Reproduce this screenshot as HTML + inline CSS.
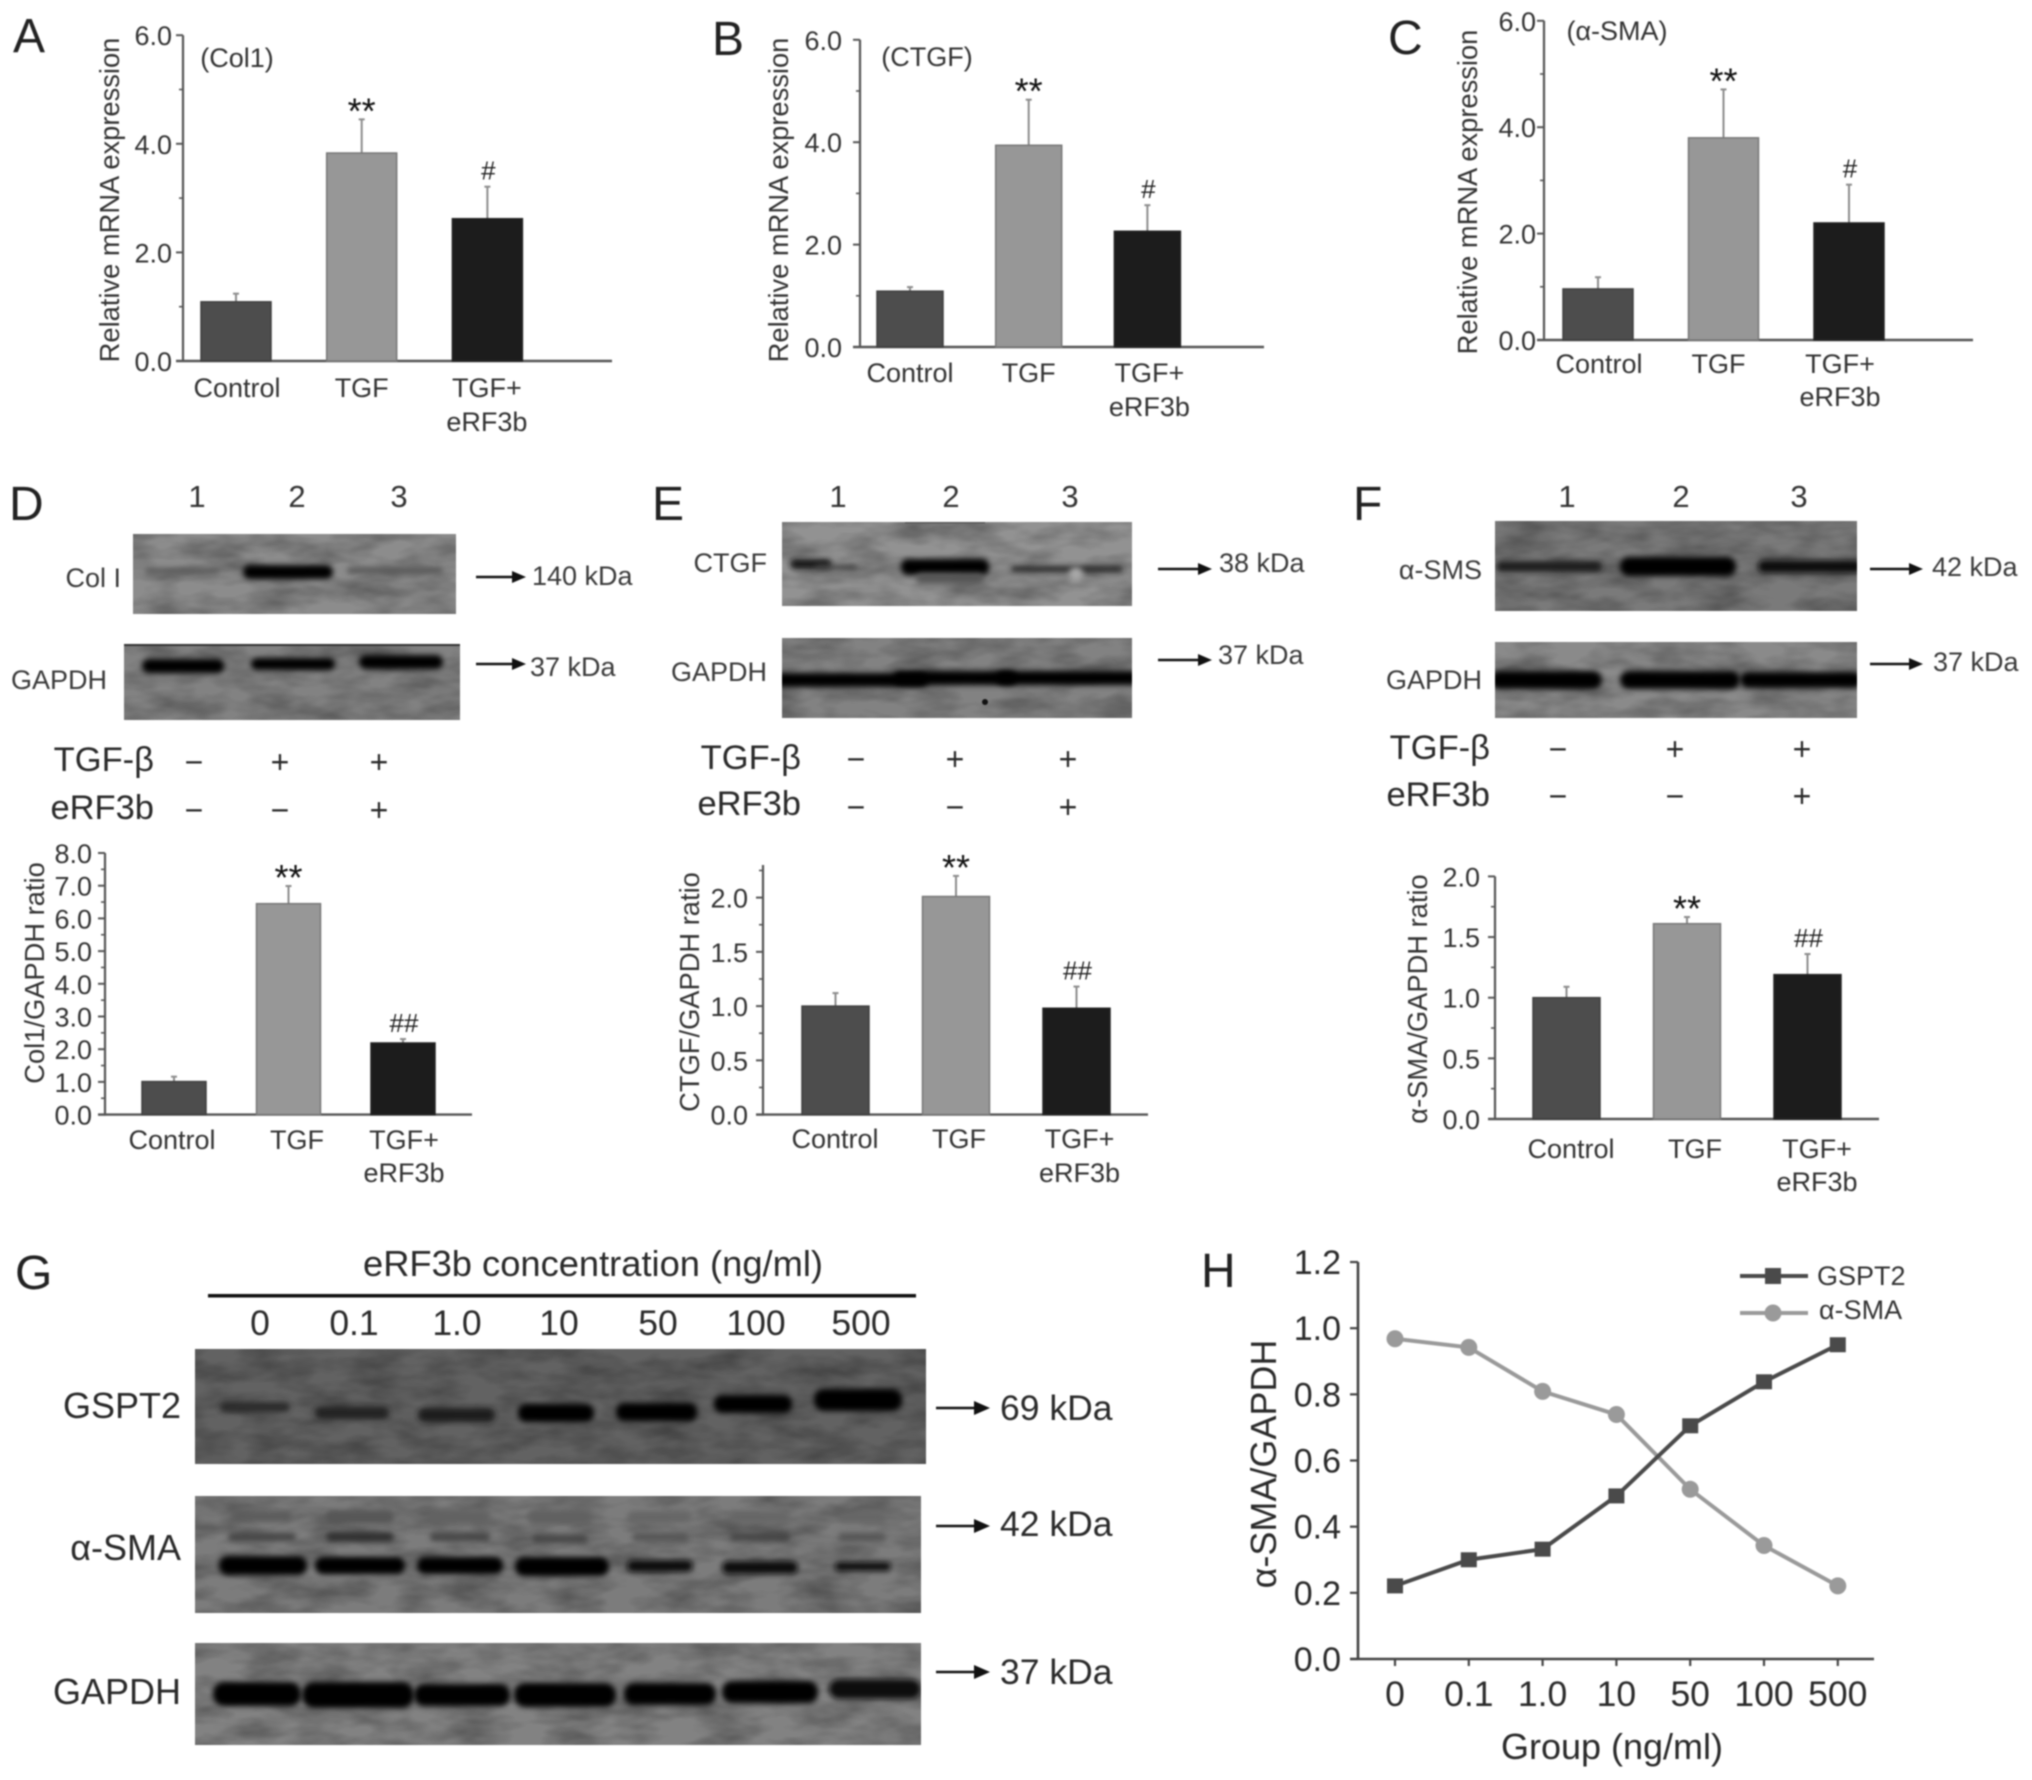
<!DOCTYPE html>
<html lang="en">
<head>
<meta charset="utf-8">
<title>eRF3b Western blot and qPCR figure</title>
<style>
html,body{margin:0;padding:0;background:#fff;width:2032px;height:1780px;overflow:hidden}
svg#figure{display:block;filter:blur(0.7px)}
text{font-family:"Liberation Sans","DejaVu Sans",sans-serif;fill:#333}
.panel{font-size:48px;fill:#222}
.lane{font-size:31px;text-anchor:middle;fill:#333}
.wb{font-size:27px;fill:#3a3a3a}
.wbr{font-size:27px;fill:#3a3a3a;text-anchor:end}
.treat{font-size:34.5px;fill:#2a2a2a;text-anchor:end}
.sign{font-size:32px;fill:#2a2a2a;text-anchor:middle}
.g{font-size:35.5px;fill:#2a2a2a}
.gr{font-size:36px;fill:#2a2a2a;text-anchor:end}
.gl{font-size:35.5px;fill:#2a2a2a;text-anchor:middle}
.band{filter:url(#bandBlur)}
.arrow-line{stroke:#111;stroke-width:2.5}
.arrow-head{fill:#111}
</style>
</head>
<body>
<svg id="figure" xmlns="http://www.w3.org/2000/svg" width="2032" height="1780" viewBox="0 0 2032 1780">
<defs>
<filter id="bandBlur" x="-30%" y="-200%" width="160%" height="500%"><feGaussianBlur stdDeviation="3"/></filter>
<filter id="mottle" x="0" y="0" width="100%" height="100%">
<feTurbulence type="fractalNoise" baseFrequency="0.02 0.05" numOctaves="3" seed="4"/>
<feColorMatrix type="matrix" values="0 0 0 0 0  0 0 0 0 0  0 0 0 0 0  0.55 0 0 0 -0.18"/>
</filter>
</defs>
<rect width="2032" height="1780" fill="#fff"/>

<text class="panel" x="13" y="52">A</text>
<text class="panel" x="712" y="55">B</text>
<text class="panel" x="1388" y="54">C</text>
<text class="panel" x="9" y="520">D</text>
<text class="panel" x="652" y="520">E</text>
<text class="panel" x="1353" y="520">F</text>
<text class="panel" x="15" y="1289">G</text>
<text class="panel" x="1201" y="1287">H</text>

<!-- Panel D blots -->
<g>
<text class="lane" x="197" y="507">1</text>
<text class="lane" x="297" y="507">2</text>
<text class="lane" x="399" y="507">3</text>
<svg x="133" y="534" width="323" height="80" viewBox="133 534 323 80">
<rect x="133" y="534" width="323" height="80" fill="#8c8c8c"/>
<rect x="133" y="534" width="323" height="80" filter="url(#mottle)"/>
<rect class="band" x="145" y="568" width="74" height="6" rx="3" fill="#5a5a5a"/>
<rect class="band" x="243" y="565" width="90" height="14" rx="7" fill="#050505"/>
<rect class="band" x="347" y="567" width="96" height="7" rx="3" fill="#5a5a5a"/>
</svg>
<svg x="124" y="644" width="336" height="76" viewBox="124 644 336 76">
<rect x="124" y="644" width="336" height="76" fill="#828282"/>
<rect x="124" y="644" width="336" height="76" filter="url(#mottle)"/>
<rect x="124" y="644" width="336" height="2" fill="#333"/>
<rect class="band" x="142" y="659" width="82" height="14" rx="7" fill="#050505"/>
<rect class="band" x="251" y="658" width="84" height="12" rx="6" fill="#050505"/>
<rect class="band" x="359" y="655" width="84" height="14" rx="7" fill="#050505"/>
</svg>
<text class="wbr" x="121" y="587">Col I</text>
<text class="wbr" x="107" y="689">GAPDH</text>
<line class="arrow-line" x1="476" y1="577" x2="514" y2="577"/><polygon class="arrow-head" points="512,571 526,577 512,583"/>
<text class="wb" x="532" y="585">140 kDa</text>
<line class="arrow-line" x1="476" y1="664" x2="514" y2="664"/><polygon class="arrow-head" points="512,658 526,664 512,670"/>
<text class="wb" x="530" y="676">37 kDa</text>
<text class="treat" x="154" y="771">TGF-β</text>
<text class="treat" x="154" y="819">eRF3b</text>
<text class="sign" x="194" y="773">−</text>
<text class="sign" x="280" y="773">+</text>
<text class="sign" x="379" y="773">+</text>
<text class="sign" x="194" y="821">−</text>
<text class="sign" x="280" y="821">−</text>
<text class="sign" x="379" y="821">+</text>
</g>

<!-- Panel E blots -->
<g>
<text class="lane" x="838" y="507">1</text>
<text class="lane" x="951" y="507">2</text>
<text class="lane" x="1070" y="507">3</text>
<svg x="782" y="522" width="350" height="84" viewBox="782 522 350 84">
<rect x="782" y="522" width="350" height="84" fill="#929292"/>
<rect x="782" y="522" width="350" height="84" filter="url(#mottle)"/>
<rect x="905" y="522" width="80" height="1.5" fill="#555"/>
<rect class="band" x="790" y="559" width="42" height="10" rx="5" fill="#151515"/>
<rect class="band" x="815" y="565" width="42" height="5" rx="2.5" fill="#444"/>
<rect class="band" x="901" y="559" width="88" height="16" rx="7" fill="#050505"/>
<rect class="band" x="916" y="573" width="68" height="10" rx="5" fill="#555"/>
<rect class="band" x="1011" y="566" width="112" height="6" rx="3" fill="#222"/>
<circle cx="1076" cy="574" r="7" fill="#a8a8a8" class="band"/>
</svg>
<svg x="782" y="638" width="350" height="80" viewBox="782 638 350 80">
<rect x="782" y="638" width="350" height="80" fill="#828282"/>
<rect x="782" y="638" width="350" height="80" filter="url(#mottle)"/>
<rect class="band" x="772" y="673" width="156" height="14" rx="7" fill="#050505"/>
<rect class="band" x="893" y="671" width="124" height="14" rx="7" fill="#050505"/>
<rect class="band" x="996" y="671" width="144" height="14" rx="7" fill="#050505"/>
<circle cx="985" cy="702" r="3" fill="#111"/>
</svg>
<text class="wbr" x="767" y="572">CTGF</text>
<text class="wbr" x="767" y="681">GAPDH</text>
<line class="arrow-line" x1="1158" y1="569" x2="1200" y2="569"/><polygon class="arrow-head" points="1198,563 1212,569 1198,575"/>
<text class="wb" x="1219" y="572">38 kDa</text>
<line class="arrow-line" x1="1158" y1="660" x2="1200" y2="660"/><polygon class="arrow-head" points="1198,654 1212,660 1198,666"/>
<text class="wb" x="1218" y="664">37 kDa</text>
<text class="treat" x="801" y="769">TGF-β</text>
<text class="treat" x="801" y="815">eRF3b</text>
<text class="sign" x="856" y="770">−</text>
<text class="sign" x="955" y="770">+</text>
<text class="sign" x="1068" y="770">+</text>
<text class="sign" x="856" y="818">−</text>
<text class="sign" x="955" y="818">−</text>
<text class="sign" x="1068" y="818">+</text>
</g>

<!-- Panel F blots -->
<g>
<text class="lane" x="1567" y="507">1</text>
<text class="lane" x="1681" y="507">2</text>
<text class="lane" x="1799" y="507">3</text>
<svg x="1495" y="521" width="362" height="90" viewBox="1495 521 362 90">
<rect x="1495" y="521" width="362" height="90" fill="#7a7a7a"/>
<rect x="1495" y="521" width="362" height="90" filter="url(#mottle)"/>
<rect class="band" x="1496" y="561" width="106" height="11" rx="5" fill="#1a1a1a"/>
<rect class="band" x="1620" y="557" width="116" height="19" rx="9" fill="#030303"/>
<rect class="band" x="1758" y="560" width="104" height="13" rx="6" fill="#0a0a0a"/>
</svg>
<svg x="1495" y="642" width="362" height="76" viewBox="1495 642 362 76">
<rect x="1495" y="642" width="362" height="76" fill="#8a8a8a"/>
<rect x="1495" y="642" width="362" height="76" filter="url(#mottle)"/>
<rect class="band" x="1490" y="671" width="112" height="18" rx="9" fill="#030303"/>
<rect class="band" x="1620" y="671" width="120" height="18" rx="9" fill="#030303"/>
<rect class="band" x="1740" y="672" width="122" height="16" rx="8" fill="#030303"/>
</svg>
<text class="wbr" x="1482" y="579">α-SMS</text>
<text class="wbr" x="1482" y="689">GAPDH</text>
<line class="arrow-line" x1="1870" y1="569" x2="1911" y2="569"/><polygon class="arrow-head" points="1909,563 1923,569 1909,575"/>
<text class="wb" x="1932" y="576">42 kDa</text>
<line class="arrow-line" x1="1870" y1="664" x2="1911" y2="664"/><polygon class="arrow-head" points="1909,658 1923,664 1909,670"/>
<text class="wb" x="1933" y="671">37 kDa</text>
<text class="treat" x="1490" y="759">TGF-β</text>
<text class="treat" x="1490" y="806">eRF3b</text>
<text class="sign" x="1558" y="760">−</text>
<text class="sign" x="1675" y="760">+</text>
<text class="sign" x="1802" y="760">+</text>
<text class="sign" x="1558" y="807">−</text>
<text class="sign" x="1675" y="807">−</text>
<text class="sign" x="1802" y="807">+</text>
</g>

<!-- Panel G blots -->
<g>
<text class="gl" x="593" y="1276" style="font-size:36.3px">eRF3b concentration (ng/ml)</text>
<rect x="208" y="1294" width="708" height="3.5" fill="#111"/>
<text class="gl" x="260" y="1335">0</text>
<text class="gl" x="354" y="1335">0.1</text>
<text class="gl" x="457" y="1335">1.0</text>
<text class="gl" x="559" y="1335">10</text>
<text class="gl" x="658" y="1335">50</text>
<text class="gl" x="756" y="1335">100</text>
<text class="gl" x="861" y="1335">500</text>
<svg x="195" y="1349" width="731" height="115" viewBox="195 1349 731 115">
<rect x="195" y="1349" width="731" height="115" fill="#626262"/>
<rect x="195" y="1349" width="731" height="115" filter="url(#mottle)"/>
<rect class="band" x="220" y="1402" width="70" height="10" rx="5" fill="#2a2a2a"/>
<rect class="band" x="315" y="1407" width="74" height="12" rx="6" fill="#222"/>
<rect class="band" x="418" y="1408" width="77" height="14" rx="7" fill="#1a1a1a"/>
<rect class="band" x="518" y="1404" width="76" height="18" rx="8" fill="#050505"/>
<rect class="band" x="616" y="1403" width="81" height="18" rx="8" fill="#050505"/>
<rect class="band" x="714" y="1395" width="78" height="18" rx="8" fill="#050505"/>
<rect class="band" x="814" y="1389" width="88" height="22" rx="10" fill="#030303"/>
</svg>
<svg x="195" y="1496" width="726" height="117" viewBox="195 1496 726 117">
<rect x="195" y="1496" width="726" height="117" fill="#7c7c7c"/>
<rect x="195" y="1496" width="726" height="117" filter="url(#mottle)"/>
<rect class="band" x="232" y="1511" width="60" height="11" rx="5" fill="#5c5c5c"/>
<rect class="band" x="326" y="1510" width="68" height="14" rx="6" fill="#565656"/>
<rect class="band" x="430" y="1510" width="60" height="14" rx="6" fill="#626262"/>
<rect class="band" x="528" y="1510" width="64" height="14" rx="6" fill="#606060"/>
<rect class="band" x="628" y="1511" width="64" height="12" rx="6" fill="#666"/>
<rect class="band" x="730" y="1511" width="60" height="12" rx="6" fill="#666"/>
<rect class="band" x="838" y="1511" width="48" height="12" rx="6" fill="#666"/>
<rect class="band" x="228" y="1533" width="68" height="8" rx="4" fill="#444"/>
<rect class="band" x="326" y="1532" width="68" height="10" rx="5" fill="#333"/>
<rect class="band" x="430" y="1533" width="60" height="8" rx="4" fill="#444"/>
<rect class="band" x="532" y="1535" width="56" height="8" rx="4" fill="#444"/>
<rect class="band" x="632" y="1533" width="56" height="8" rx="4" fill="#555"/>
<rect class="band" x="730" y="1533" width="60" height="8" rx="4" fill="#444"/>
<rect class="band" x="838" y="1533" width="48" height="8" rx="4" fill="#555"/>
<rect class="band" x="219" y="1556" width="88" height="19" rx="9" fill="#030303"/>
<rect class="band" x="315" y="1557" width="90" height="17" rx="8" fill="#030303"/>
<rect class="band" x="417" y="1557" width="86" height="17" rx="8" fill="#030303"/>
<rect class="band" x="515" y="1557" width="94" height="19" rx="9" fill="#030303"/>
<rect class="band" x="627" y="1560" width="66" height="12" rx="6" fill="#0a0a0a"/>
<rect class="band" x="722" y="1561" width="76" height="13" rx="6" fill="#0a0a0a"/>
<rect class="band" x="835" y="1562" width="56" height="9" rx="4" fill="#111"/>
</svg>
<svg x="195" y="1643" width="726" height="102" viewBox="195 1643 726 102">
<rect x="195" y="1643" width="726" height="102" fill="#828282"/>
<rect x="195" y="1643" width="726" height="102" filter="url(#mottle)"/>
<rect class="band" x="213" y="1682" width="88" height="24" rx="11" fill="#030303"/>
<rect class="band" x="302" y="1682" width="112" height="26" rx="12" fill="#030303"/>
<rect class="band" x="414" y="1684" width="96" height="22" rx="10" fill="#030303"/>
<rect class="band" x="514" y="1683" width="102" height="24" rx="11" fill="#030303"/>
<rect class="band" x="624" y="1683" width="92" height="22" rx="10" fill="#030303"/>
<rect class="band" x="722" y="1681" width="96" height="22" rx="10" fill="#050505"/>
<rect class="band" x="829" y="1679" width="92" height="20" rx="10" fill="#0a0a0a"/>
</svg>
<text class="gr" x="181" y="1418">GSPT2</text>
<text class="gr" x="181" y="1560">α-SMA</text>
<text class="gr" x="181" y="1704">GAPDH</text>
<line class="arrow-line" x1="936" y1="1408" x2="976" y2="1408"/><polygon class="arrow-head" points="974,1401 990,1408 974,1415"/>
<text class="g" x="1000" y="1420">69 kDa</text>
<line class="arrow-line" x1="936" y1="1526" x2="976" y2="1526"/><polygon class="arrow-head" points="974,1519 990,1526 974,1533"/>
<text class="g" x="1000" y="1536">42 kDa</text>
<line class="arrow-line" x1="936" y1="1672" x2="976" y2="1672"/><polygon class="arrow-head" points="974,1665 990,1672 974,1679"/>
<text class="g" x="1000" y="1684">37 kDa</text>
</g>

<g id="charts"></g>
</svg>

<script>
// ---- Chart data ----
const barCategories = ['Control', 'TGF', 'TGF+'];
const barCategorySecondLine = ['', '', 'eRF3b'];

const aTickLabels = ['0.0', '2.0', '4.0', '6.0'];
const aMinorTicks = [1, 3, 5];
const aValues = [1.09, 3.83, 2.62];
const aErrorTops = [1.24, 4.45, 3.21];
const aMarks = ['', '**', '#'];

const bTickLabels = ['0.0', '2.0', '4.0', '6.0'];
const bMinorTicks = [1, 3, 5];
const bValues = [1.09, 3.94, 2.26];
const bErrorTops = [1.17, 4.83, 2.77];
const bMarks = ['', '**', '#'];

const cTickLabels = ['0.0', '2.0', '4.0', '6.0'];
const cMinorTicks = [1, 3, 5];
const cValues = [0.96, 3.80, 2.20];
const cErrorTops = [1.18, 4.71, 2.92];
const cMarks = ['', '**', '#'];

const dTickLabels = ['0.0', '1.0', '2.0', '3.0', '4.0', '5.0', '6.0', '7.0', '8.0'];
const dMinorTicks = [0.5, 1.5, 2.5, 3.5, 4.5, 5.5, 6.5, 7.5];
const dValues = [1.01, 6.45, 2.19];
const dErrorTops = [1.16, 6.99, 2.31];
const dMarks = ['', '**', '##'];

const eTickLabels = ['0.0', '0.5', '1.0', '1.5', '2.0'];
const eMinorTicks = [0.25, 0.75, 1.25, 1.75, 2.25];
const eValues = [1.0, 2.01, 0.98];
const eErrorTops = [1.12, 2.2, 1.18];
const eMarks = ['', '**', '##'];

const fTickLabels = ['0.0', '0.5', '1.0', '1.5', '2.0'];
const fMinorTicks = [0.25, 0.75, 1.25, 1.75];
const fValues = [1.0, 1.61, 1.19];
const fErrorTops = [1.09, 1.665, 1.36];
const fMarks = ['', '**', '##'];

const hCategories = ['0', '0.1', '1.0', '10', '50', '100', '500'];
const hTickLabels = ['0.0', '0.2', '0.4', '0.6', '0.8', '1.0', '1.2'];
const hGspt2Values = [0.221, 0.30, 0.332, 0.493, 0.705, 0.838, 0.95];
const hSmaValues = [0.968, 0.942, 0.809, 0.739, 0.513, 0.343, 0.221];

// ---- Drawing ----
const SVGNS = 'http://www.w3.org/2000/svg';
const chartsRoot = document.getElementById('charts');

function mk(tag, name, attrs, parent) {
  const el = document.createElementNS(SVGNS, tag);
  
  
  Object.keys(attrs).forEach(function (k) { el.setAttribute(k, attrs[k]); });
  parent.appendChild(el);
  return el;
}
function label(name, str, attrs, parent) {
  const el = mk('text', name, attrs, parent);
  el.textContent = str;
  return el;
}

const barFills = ['#4d4d4d', '#979797', '#1c1c1c'];
const barEdges = ['#3f3f3f', '#777777', '#222222'];
const AXIS = '#555';

function drawBarChart(id, layout, tickLabels, minorTicks, values, errorTops, marks) {
  const g = mk('g', 'chart-' + id, {}, chartsRoot);
  const yScale = function (v) { return layout.y0 - v * layout.unit; };
  const xBand = function (i) { return layout.first + i * layout.step; };
  const size = 27;

  const topValue = layout.axisTopValue;
  mk('line', 'y-axis', { x1: layout.x0, x2: layout.x0, y1: yScale(topValue), y2: layout.y0 + 1, stroke: AXIS, 'stroke-width': 2.2 }, g);
  mk('line', 'x-axis', { x1: layout.x0 - 7, x2: layout.xEnd, y1: layout.y0, y2: layout.y0, stroke: AXIS, 'stroke-width': 2.4 }, g);

  tickLabels.forEach(function (t) {
    const v = Number(t);
    mk('line', 'y-tick', { x1: layout.x0 - 7, x2: layout.x0, y1: yScale(v), y2: yScale(v), stroke: AXIS, 'stroke-width': 2 }, g);
    label('y-tick-label', t, { x: layout.tickRight, y: yScale(v) + 10, 'text-anchor': 'end', 'font-size': size }, g);
  });
  minorTicks.forEach(function (v) {
    mk('line', 'y-minor-tick', { x1: layout.x0 - 4, x2: layout.x0, y1: yScale(v), y2: yScale(v), stroke: AXIS, 'stroke-width': 1.6 }, g);
  });

  label('y-axis-title', layout.title, {
    transform: 'translate(' + layout.titleX + ',' + layout.titleY + ') rotate(-90)',
    'text-anchor': 'middle', 'font-size': 27.3
  }, g);

  values.forEach(function (v, i) {
    const cx = xBand(i);
    const top = yScale(errorTops[i]);
    mk('line', 'error-bar', { x1: cx, x2: cx, y1: top, y2: yScale(v), stroke: '#8c8c8c', 'stroke-width': 2 }, g);
    mk('line', 'error-cap', { x1: cx - 3, x2: cx + 3, y1: top, y2: top, stroke: '#8c8c8c', 'stroke-width': 2 }, g);
    mk('rect', 'bar-' + barCategories[i].toLowerCase().replace('+', '-erf3b'), {
      x: cx - layout.barWidth / 2, y: yScale(v), width: layout.barWidth, height: layout.y0 - yScale(v),
      fill: barFills[i], stroke: barEdges[i], 'stroke-width': 1.5
    }, g);
    const lx = cx + layout.labelDx[i];
    label('category-label', barCategories[i], { x: lx, y: layout.labelY, 'text-anchor': 'middle', 'font-size': size }, g);
    if (barCategorySecondLine[i]) {
      label('category-label', barCategorySecondLine[i], { x: lx, y: layout.label2Y, 'text-anchor': 'middle', 'font-size': size }, g);
    }
    if (marks[i] === '**') {
      label('significance-mark', marks[i], { x: cx, y: top + 4, 'text-anchor': 'middle', 'font-size': 36, style: 'fill:#111' }, g);
    } else if (marks[i]) {
      label('significance-mark', marks[i], { x: cx + 1, y: top - 7, 'text-anchor': 'middle', 'font-size': 26, style: 'fill:#222' }, g);
    }
  });
  if (layout.note) {
    label('gene-label', layout.note, { x: layout.noteX, y: layout.noteY, 'text-anchor': 'middle', 'font-size': 27 }, g);
  }
}

drawBarChart('a',
  { x0: 183, xEnd: 612, y0: 361, unit: 54.3, axisTopValue: 6, first: 236, step: 125.7, barWidth: 70,
    tickRight: 172, labelDx: [1, 0, -0.5], labelY: 397, label2Y: 431, title: 'Relative mRNA expression',
    titleX: 119, titleY: 200, note: '(Col1)', noteX: 237, noteY: 67 },
  aTickLabels, aMinorTicks, aValues, aErrorTops, aMarks);

drawBarChart('b',
  { x0: 860, xEnd: 1264, y0: 347, unit: 51.2, axisTopValue: 6, first: 910, step: 118.7, barWidth: 66,
    tickRight: 842, labelDx: [0, 0, 2], labelY: 382, label2Y: 416, title: 'Relative mRNA expression',
    titleX: 788, titleY: 200, note: '(CTGF)', noteX: 927, noteY: 66 },
  bTickLabels, bMinorTicks, bValues, bErrorTops, bMarks);

drawBarChart('c',
  { x0: 1544, xEnd: 1973, y0: 340, unit: 53.2, axisTopValue: 6, first: 1598, step: 125.5, barWidth: 70,
    tickRight: 1536, labelDx: [1, -5, -9], labelY: 373, label2Y: 406, title: 'Relative mRNA expression',
    titleX: 1477, titleY: 192, note: '(α-SMA)', noteX: 1617, noteY: 40 },
  cTickLabels, cMinorTicks, cValues, cErrorTops, cMarks);

drawBarChart('d',
  { x0: 105, xEnd: 472, y0: 1114.6, unit: 32.7, axisTopValue: 8, first: 174, step: 114.5, barWidth: 64,
    tickRight: 92, labelDx: [-2, 8.5, 1], labelY: 1149, label2Y: 1182, title: 'Col1/GAPDH ratio',
    titleX: 44, titleY: 973 },
  dTickLabels, dMinorTicks, dValues, dErrorTops, dMarks);

drawBarChart('e',
  { x0: 763, xEnd: 1148, y0: 1114.6, unit: 108.5, axisTopValue: 2.3, first: 835.5, step: 120.5, barWidth: 67,
    tickRight: 748, labelDx: [-0.5, 3, 3], labelY: 1148, label2Y: 1182, title: 'CTGF/GAPDH ratio',
    titleX: 699, titleY: 992 },
  eTickLabels, eMinorTicks, eValues, eErrorTops, eMarks);

drawBarChart('f',
  { x0: 1495, xEnd: 1879, y0: 1119, unit: 121.3, axisTopValue: 2, first: 1566.5, step: 120.5, barWidth: 67,
    tickRight: 1480, labelDx: [4.5, 8, 9.5], labelY: 1158, label2Y: 1191, title: 'α-SMA/GAPDH ratio',
    titleX: 1427, titleY: 999 },
  fTickLabels, fMinorTicks, fValues, fErrorTops, fMarks);

// Line chart H
(function drawLineChart() {
  const g = mk('g', 'chart-h', {}, chartsRoot);
  const x0 = 1358, xEnd = 1874, y0 = 1659, unit = 330.8;
  const xScale = function (i) { return 1395 + i * 73.8; };
  const yScale = function (v) { return y0 - v * unit; };

  mk('line', 'y-axis', { x1: x0, x2: x0, y1: yScale(1.2), y2: y0 + 1, stroke: '#444', 'stroke-width': 2.6 }, g);
  mk('line', 'x-axis', { x1: x0 - 8, x2: xEnd, y1: y0, y2: y0, stroke: '#444', 'stroke-width': 2.6 }, g);

  hTickLabels.forEach(function (t) {
    const v = Number(t);
    mk('line', 'y-tick', { x1: x0 - 8, x2: x0, y1: yScale(v), y2: yScale(v), stroke: '#444', 'stroke-width': 2.2 }, g);
    label('y-tick-label', t, { x: 1341, y: yScale(v) + 12, 'text-anchor': 'end', 'font-size': 34, style: 'fill:#2a2a2a' }, g);
  });
  hCategories.forEach(function (c, i) {
    mk('line', 'x-tick', { x1: xScale(i), x2: xScale(i), y1: y0, y2: y0 + 7, stroke: '#444', 'stroke-width': 2.2 }, g);
    label('x-tick-label', c, { x: xScale(i), y: 1706, 'text-anchor': 'middle', 'font-size': 35.5, style: 'fill:#2a2a2a' }, g);
  });

  label('x-axis-title', 'Group (ng/ml)', { x: 1612, y: 1759, 'text-anchor': 'middle', 'font-size': 36, style: 'fill:#2a2a2a' }, g);
  label('y-axis-title', 'α-SMA/GAPDH', { transform: 'translate(1276,1464) rotate(-90)', 'text-anchor': 'middle', 'font-size': 36, style: 'fill:#2a2a2a' }, g);

  const smaPts = hSmaValues.map(function (v, i) { return xScale(i) + ',' + yScale(v); }).join(' ');
  mk('polyline', 'line-sma', { points: smaPts, fill: 'none', stroke: '#9a9a9a', 'stroke-width': 4 }, g);
  const gsPts = hGspt2Values.map(function (v, i) { return xScale(i) + ',' + yScale(v); }).join(' ');
  mk('polyline', 'line-gspt2', { points: gsPts, fill: 'none', stroke: '#4a4a4a', 'stroke-width': 4 }, g);

  hSmaValues.forEach(function (v, i) {
    mk('circle', 'point-sma', { cx: xScale(i), cy: yScale(v), r: 8.5, fill: '#9a9a9a' }, g);
  });
  hGspt2Values.forEach(function (v, i) {
    mk('rect', 'point-gspt2', { x: xScale(i) - 8, y: yScale(v) - 7.5, width: 16, height: 15, fill: '#4a4a4a' }, g);
  });

  // Legend
  const lg = mk('g', 'legend', {}, g);
  mk('line', 'legend-line-gspt2', { x1: 1740, x2: 1808, y1: 1276, y2: 1276, stroke: '#4a4a4a', 'stroke-width': 4 }, lg);
  mk('rect', 'legend-marker-gspt2', { x: 1765, y: 1268, width: 16, height: 16, fill: '#4a4a4a' }, lg);
  label('legend-entry-gspt2', 'GSPT2', { x: 1817, y: 1285, 'font-size': 27, style: 'fill:#333' }, lg);
  mk('line', 'legend-line-sma', { x1: 1740, x2: 1808, y1: 1313, y2: 1313, stroke: '#9a9a9a', 'stroke-width': 4 }, lg);
  mk('circle', 'legend-marker-sma', { cx: 1773, cy: 1313, r: 8.5, fill: '#9a9a9a' }, lg);
  label('legend-entry-sma', 'α-SMA', { x: 1819, y: 1319, 'font-size': 27, style: 'fill:#333' }, lg);
})();
</script>
</body>
</html>
